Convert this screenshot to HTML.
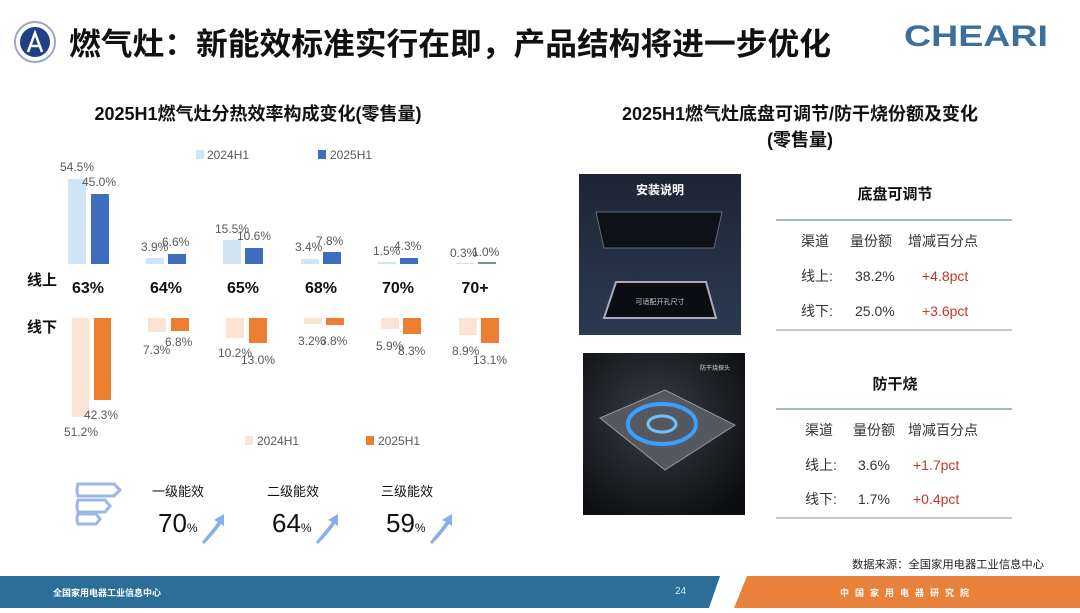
<!DOCTYPE html>
<html><head><meta charset="utf-8"><style>
html,body{margin:0;padding:0;background:#fff;}
body{width:1080px;height:608px;overflow:hidden;font-family:"Liberation Sans","Noto Sans CJK SC",sans-serif;}
</style></head><body>
<svg width="1080" height="608" viewBox="0 0 1080 608" xmlns="http://www.w3.org/2000/svg" font-family="Liberation Sans, Noto Sans CJK SC, sans-serif">
<rect width="1080" height="608" fill="#fff"/>
<!-- header -->
<circle cx="35" cy="42" r="20" fill="#fff" stroke="#9aa8c6" stroke-width="2"/>
<circle cx="35" cy="42" r="15" fill="#1f3f86"/>
<path d="M28 52 L35 33 L42 52 M31 46 L39 46" stroke="#fff" stroke-width="2.5" fill="none"/>
<text x="69" y="55" font-size="31" font-weight="bold" fill="#111" textLength="762" lengthAdjust="spacingAndGlyphs">燃气灶：新能效标准实行在即，产品结构将进一步优化</text>
<text x="904" y="46" font-size="30" font-weight="bold" fill="#3b6f9c" textLength="144" lengthAdjust="spacingAndGlyphs">CHEARI</text>
<!-- left title -->
<text x="258" y="120" font-size="18" font-weight="bold" fill="#111" text-anchor="middle">2025H1燃气灶分热效率构成变化(零售量)</text>
<!-- right title -->
<text x="800" y="120" font-size="18" font-weight="bold" fill="#111" text-anchor="middle">2025H1燃气灶底盘可调节/防干烧份额及变化</text>
<text x="800" y="146" font-size="18" font-weight="bold" fill="#111" text-anchor="middle">(零售量)</text>
<!-- legend top -->
<rect x="196" y="150" width="8" height="9" fill="#cfe5f6"/><text x="207" y="159" font-size="12" fill="#595959">2024H1</text>
<rect x="318" y="150" width="8" height="9" fill="#3f6dbf"/><text x="330" y="159" font-size="12" fill="#595959">2025H1</text>
<g font-size="12" fill="#595959">
<rect x="68" y="179" width="18" height="85" fill="#cfe5f6"/><rect x="91" y="194" width="18" height="70" fill="#3f6dbf"/>
<text x="60" y="171">54.5%</text><text x="82" y="186">45.0%</text>
<rect x="146" y="258" width="18" height="6" fill="#cfe5f6"/><rect x="168" y="254" width="18" height="10" fill="#3f6dbf"/>
<text x="141" y="251">3.9%</text><text x="162" y="246">6.6%</text>
<rect x="223" y="240" width="18" height="24" fill="#cfe5f6"/><rect x="245" y="248" width="18" height="16" fill="#3f6dbf"/>
<text x="215" y="233">15.5%</text><text x="237" y="240">10.6%</text>
<rect x="301" y="259" width="18" height="5" fill="#cfe5f6"/><rect x="323" y="252" width="18" height="12" fill="#3f6dbf"/>
<text x="295" y="251">3.4%</text><text x="316" y="245">7.8%</text>
<rect x="378" y="262" width="18" height="2" fill="#cfe5f6"/><rect x="400" y="258" width="18" height="6" fill="#3f6dbf"/>
<text x="373" y="255">1.5%</text><text x="394" y="250">4.3%</text>
<rect x="456" y="263" width="18" height="1" fill="#cfe5f6"/><rect x="478" y="262" width="18" height="2" fill="#7e8aa8"/>
<text x="450" y="257">0.3%</text><text x="472" y="256">1.0%</text>
<rect x="72" y="318" width="17" height="99" fill="#fbe3d6"/><rect x="94" y="318" width="17" height="82" fill="#ed7d31"/>
<text x="64" y="436">51.2%</text><text x="84" y="419">42.3%</text>
<rect x="148" y="318" width="18" height="14" fill="#fbe3d6"/><rect x="171" y="318" width="18" height="13" fill="#ed7d31"/>
<text x="143" y="354">7.3%</text><text x="165" y="346">6.8%</text>
<rect x="226" y="318" width="18" height="20" fill="#fbe3d6"/><rect x="249" y="318" width="18" height="25" fill="#ed7d31"/>
<text x="218" y="357">10.2%</text><text x="241" y="364">13.0%</text>
<rect x="304" y="318" width="18" height="6" fill="#fbe3d6"/><rect x="326" y="318" width="18" height="7" fill="#ed7d31"/>
<text x="298" y="345">3.2%</text><text x="320" y="345">3.8%</text>
<rect x="381" y="318" width="18" height="11" fill="#fbe3d6"/><rect x="403" y="318" width="18" height="16" fill="#ed7d31"/>
<text x="376" y="350">5.9%</text><text x="398" y="355">8.3%</text>
<rect x="459" y="318" width="18" height="17" fill="#fbe3d6"/><rect x="481" y="318" width="18" height="25" fill="#ed7d31"/>
<text x="452" y="355">8.9%</text><text x="473" y="364">13.1%</text>
</g>
<g font-size="16" font-weight="bold" fill="#111" text-anchor="middle">
<text x="88" y="293">63%</text><text x="166" y="293">64%</text><text x="243" y="293">65%</text>
<text x="321" y="293">68%</text><text x="398" y="293">70%</text><text x="475" y="293">70+</text>
</g>
<text x="27" y="285" font-size="15" font-weight="bold" fill="#111">线上</text>
<text x="27" y="332" font-size="15" font-weight="bold" fill="#111">线下</text>
<rect x="245" y="436" width="8" height="9" fill="#fbe3d6"/><text x="257" y="445" font-size="12" fill="#595959">2024H1</text>
<rect x="366" y="436" width="8" height="9" fill="#ed7d31"/><text x="378" y="445" font-size="12" fill="#595959">2025H1</text>
<g fill="none" stroke="#9ab8e6" stroke-width="3">
<path d="M78 484 H114 L120 490 L114 496 H78 Q76 490 78 484Z"/>
<path d="M78 500 H105 L110 506 L105 512 H78 Q76 506 78 500Z"/>
<path d="M78 514 H96 L100 519 L96 524 H78 Q76 519 78 514Z"/>
</g>
<g fill="#111">
<text x="152" y="496" font-size="13">一级能效</text>
<text x="158" y="532" font-size="26">70<tspan font-size="12">%</tspan></text>
<text x="267" y="496" font-size="13">二级能效</text>
<text x="272" y="532" font-size="26">64<tspan font-size="12">%</tspan></text>
<text x="381" y="496" font-size="13">三级能效</text>
<text x="386" y="532" font-size="26">59<tspan font-size="12">%</tspan></text>
</g>
<g fill="#86aee8">
<path d="M202 542 Q212 530 218 522 L214 520 L224 514 L224 526 L221 524 Q214 534 204 544Z"/>
<path d="M316 542 Q326 530 332 522 L328 520 L338 514 L338 526 L335 524 Q328 534 318 544Z"/>
<path d="M430 542 Q440 530 446 522 L442 520 L452 514 L452 526 L449 524 Q442 534 432 544Z"/>
</g>
<defs>
<linearGradient id="g1" x1="0" y1="0" x2="0" y2="1"><stop offset="0" stop-color="#1d2535"/><stop offset="1" stop-color="#2c3a52"/></linearGradient>
<radialGradient id="g2" cx="0.45" cy="0.4" r="0.7"><stop offset="0" stop-color="#3a3d44"/><stop offset="1" stop-color="#0c0d10"/></radialGradient>
</defs>
<rect x="579" y="174" width="162" height="161" fill="url(#g1)"/>
<text x="660" y="194" font-size="12" font-weight="bold" fill="#fff" text-anchor="middle">安装说明</text>
<path d="M596 212 L722 212 L714 248 L604 248Z" fill="#0e1118" stroke="#667" stroke-width="1"/>
<path d="M616 282 L706 282 L716 318 L604 318Z" fill="#0b0d12" stroke="#aab" stroke-width="2"/>
<text x="660" y="304" font-size="7" fill="#ccc" text-anchor="middle">可适配开孔尺寸</text>
<rect x="583" y="353" width="162" height="162" fill="url(#g2)"/>
<path d="M600 418 L665 390 L735 425 L665 470Z" fill="#55585e" stroke="#999" stroke-width="1"/>
<ellipse cx="662" cy="424" rx="34" ry="20" fill="none" stroke="#3aa0ff" stroke-width="4"/>
<ellipse cx="662" cy="424" rx="14" ry="8" fill="none" stroke="#6cc4ff" stroke-width="3"/>
<text x="700" y="370" font-size="6" fill="#ddd">防干烧探头</text>
<g font-size="14" fill="#333">
<text x="895" y="199" font-size="15" font-weight="bold" fill="#111" text-anchor="middle">底盘可调节</text>
<line x1="776" y1="220" x2="1012" y2="220" stroke="#a9b7c4" stroke-width="2"/>
<text x="801" y="246">渠道</text><text x="850" y="246">量份额</text><text x="908" y="246">增减百分点</text>
<text x="801" y="281">线上:</text><text x="855" y="281">38.2%</text><text x="922" y="281" fill="#c0392b">+4.8pct</text>
<text x="801" y="316">线下:</text><text x="855" y="316">25.0%</text><text x="922" y="316" fill="#c0392b">+3.6pct</text>
<line x1="776" y1="330" x2="1012" y2="330" stroke="#a9b7c4" stroke-width="1.5"/>
<text x="895" y="389" font-size="15" font-weight="bold" fill="#111" text-anchor="middle">防干烧</text>
<line x1="776" y1="409" x2="1012" y2="409" stroke="#a9b7c4" stroke-width="2"/>
<text x="805" y="435">渠道</text><text x="853" y="435">量份额</text><text x="908" y="435">增减百分点</text>
<text x="805" y="470">线上:</text><text x="858" y="470">3.6%</text><text x="913" y="470" fill="#c0392b">+1.7pct</text>
<text x="805" y="504">线下:</text><text x="858" y="504">1.7%</text><text x="913" y="504" fill="#c0392b">+0.4pct</text>
<line x1="776" y1="518" x2="1012" y2="518" stroke="#a9b7c4" stroke-width="1.5"/>
</g>
<text x="852" y="568" font-size="11" fill="#222" textLength="192" lengthAdjust="spacingAndGlyphs">数据来源：全国家用电器工业信息中心</text>
<path d="M0 576 L720 576 L709 608 L0 608Z" fill="#2b6f98"/>
<path d="M747 576 L1080 576 L1080 608 L734 608Z" fill="#e8823a"/>
<text x="53" y="596" font-size="9" fill="#fff" font-weight="bold">全国家用电器工业信息中心</text>
<text x="675" y="594" font-size="10" fill="#dfe8f0">24</text>
<text x="840" y="596" font-size="9" fill="#fff" letter-spacing="6" font-weight="bold">中国家用电器研究院</text>
</svg>
</body></html>
